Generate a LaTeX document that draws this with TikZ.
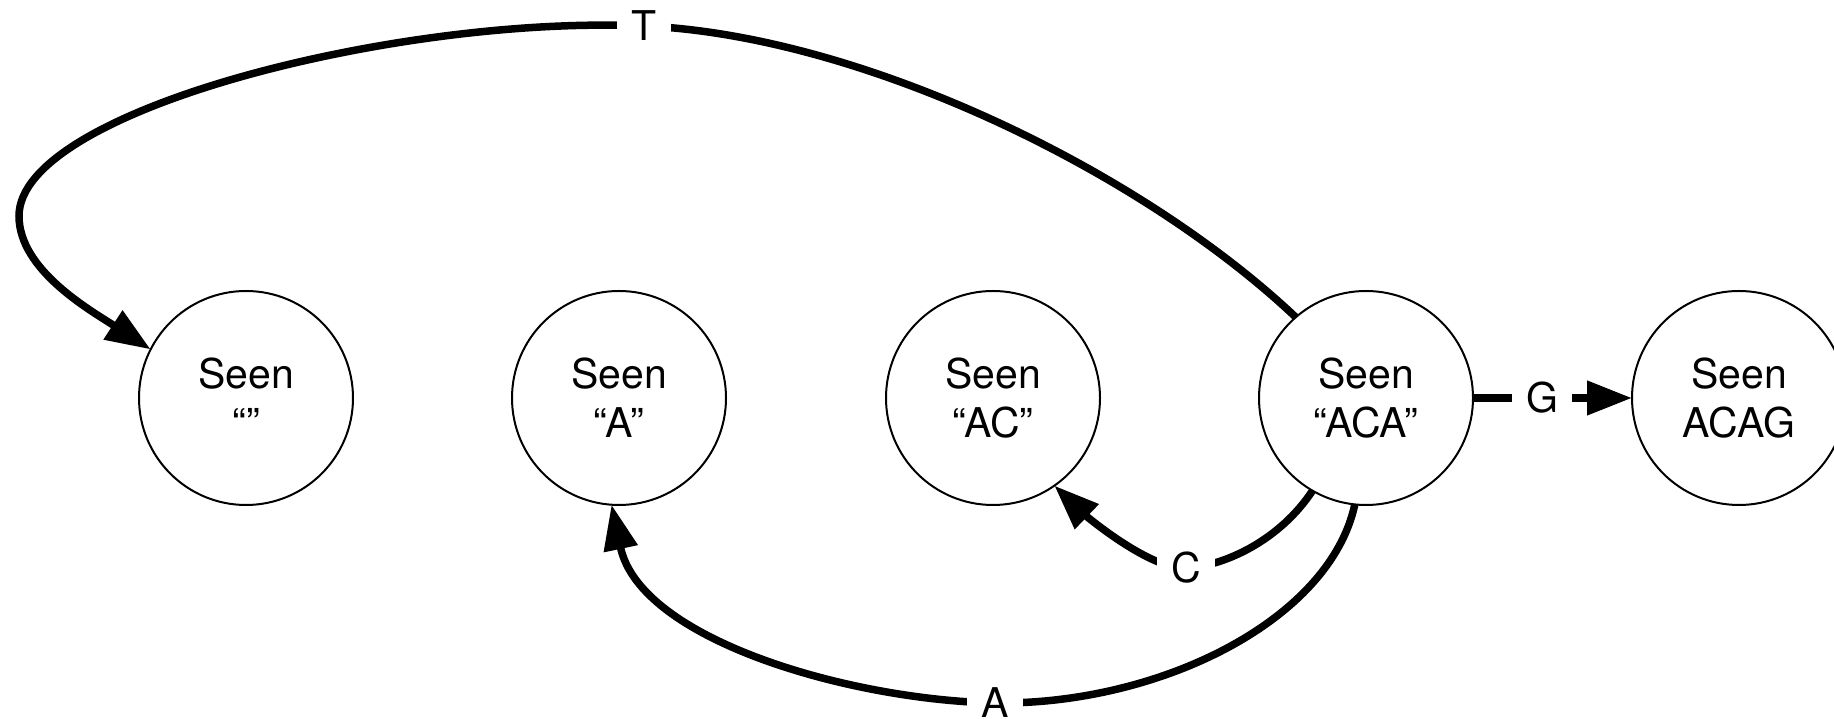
\documentclass[tikz,border=0pt]{standalone}
\usepackage{fontspec}
\setmainfont{TeX Gyre Heros}
\usetikzlibrary{arrows.meta}
\begin{document}
\begin{tikzpicture}[x=1pt,y=1pt,
  stnode/.style={circle,draw,line width=2pt,minimum size=214pt,inner sep=0pt,outer sep=0pt,align=center,font=\fontsize{41}{49}\selectfont},
  conn/.style={line width=7.5pt,-{Triangle[length=45pt,width=33pt]}},
  lbl/.style={fill=white,inner xsep=14pt,inner ysep=2pt,font=\fontsize{41}{49}\selectfont}]
\useasboundingbox (0,0) rectangle (1834,719);
\node[stnode] (s0) at (246,321) {Seen\\“”};
\node[stnode] (s1) at (619,321) {Seen\\“A”};
\node[stnode] (s2) at (993,321) {Seen\\“AC”};
\node[stnode] (s3) at (1366,321) {Seen\\“ACA”};
\node[stnode] (s4) at (1739,321) {Seen\\ACAG};
% T edge
\draw[conn] (s3.131) .. controls (1140,549) and (860,684) .. (644,693) node[lbl] (lT) {T}
  .. controls (400,704) and (19,609) .. (19,503)
  .. controls (19,449) and (90,409) .. (s0.153);
% A edge
\draw[conn] (s3.264) .. controls (1330,99) and (1160,14) .. (995,16) node[lbl] (lA) {A}
  .. controls (850,19) and (640,79) .. (s1.266);
% C edge
\draw[conn] (s3.240) .. controls (1280,179) and (1225,153) .. (1186,151) node[lbl] (lC) {C}
  .. controls (1150,149) and (1085,204) .. (s2.305);
% G edge
\draw[conn] (s3.east) -- (1542,321) node[lbl] (lG) {G} -- (s4.west);
\end{tikzpicture}
\end{document}
